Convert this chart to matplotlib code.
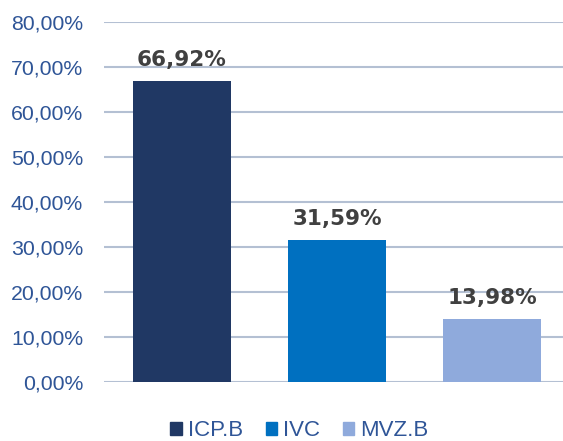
import matplotlib as mpl
mpl.use("Agg")
import matplotlib.pyplot as plt
from matplotlib.patches import Patch
from matplotlib.ticker import FuncFormatter

categories = ["ICP.B", "IVC", "MVZ.B"]
values = [66.92, 31.59, 13.98]
colors = ["#203864", "#0070c0", "#8faadc"]

TICK_BLUE = "#2f5597"
GRID = "#b4c0d3"
LABEL_GREY = "#404040"

plt.rcParams["font.family"] = ["Liberation Sans", "DejaVu Sans"]

fig = plt.figure(figsize=(5.63, 4.41), dpi=100)
ax = fig.add_axes([0.1847, 0.1338, 0.8153, 0.8162])

x = range(len(categories))
ax.bar(x, values, width=0.63, color=colors, zorder=3)

for xi, v in zip(x, values):
    ax.annotate(f"{v:.2f}%".replace(".", ","), (xi, v), xytext=(0, 8),
                textcoords="offset points", ha="center", va="bottom",
                fontsize=15.5, fontweight="heavy", color=LABEL_GREY,
                family="DejaVu Sans")

ax.set_ylim(0, 80)
ax.set_xlim(-0.503, 2.458)
ax.set_yticks(range(0, 81, 10))
ax.yaxis.set_major_formatter(FuncFormatter(lambda v, _: f"{v:.2f}%".replace(".", ",")))
ax.set_xticks([])
ax.tick_params(axis="y", length=0, pad=15, labelsize=15.3, labelcolor=TICK_BLUE)
ax.grid(axis="y", color=GRID, lw=1.5, zorder=0)
for s in ax.spines.values():
    s.set_visible(False)

handles = [Patch(color=c, label=l) for c, l in zip(colors, categories)]
leg = fig.legend(handles=handles, loc="center", bbox_to_anchor=(0.532, 10 / 441),
                 ncol=3, frameon=False, fontsize=16, handlelength=0.5,
                 handleheight=0.5, handletextpad=0.3, columnspacing=1.0,
                 borderpad=0, borderaxespad=0)
for t in leg.get_texts():
    t.set_color(TICK_BLUE)

fig.savefig("out.png", dpi=100)
